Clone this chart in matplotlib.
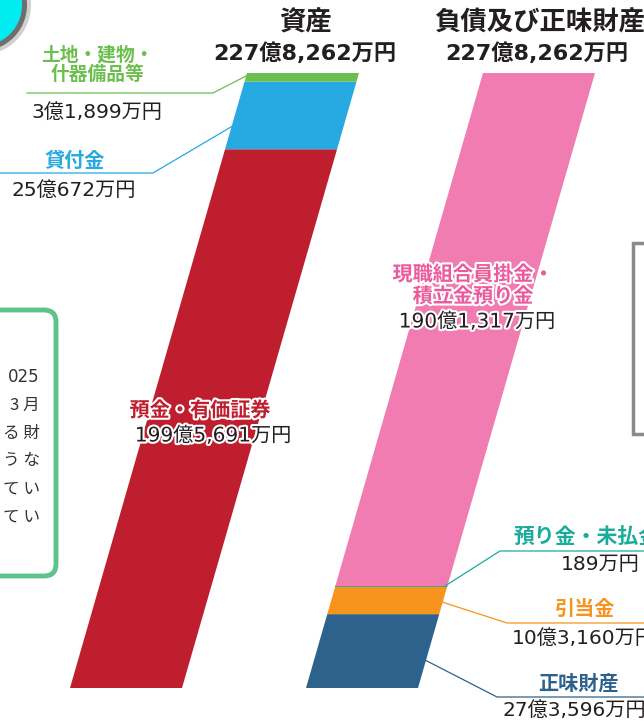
import matplotlib.pyplot as plt
import matplotlib.patheffects as pe
from matplotlib.patches import Polygon, Circle, FancyBboxPatch, Rectangle

plt.rcParams['font.family'] = ['Noto Sans CJK JP', 'DejaVu Sans']
NUM_FONT = ['DejaVu Sans', 'Noto Sans CJK JP']   # 数字は幅広の書体で

# 資産の部（下から順）
asset_names = ['預金・有価証券', '貸付金', '土地・建物・\n什器備品等']
asset_values = [199.5691, 25.0672, 3.1899]          # 億円
asset_labels = ['199億5,691万円', '25億672万円', '3億1,899万円']
asset_colors = ['#be1e2d', '#27a9e1', '#6cbf4f']

# 負債及び正味財産の部（下から順）
liab_names = ['正味財産', '引当金', '預り金・未払金', '現職組合員掛金・\n積立金預り金']
liab_values = [27.3596, 10.3160, 0.0189, 190.1317]  # 億円
liab_labels = ['27億3,596万円', '10億3,160万円', '189万円', '190億1,317万円']
liab_colors = ['#2c628b', '#f7941d', '#1aab9b', '#f07cb1']

total_label = '227億8,262万円'
total = sum(asset_values)

W, H = 644, 722
fig = plt.figure(figsize=(W / 100, H / 100), dpi=100)

# 帯グラフ用（縦軸は金額）
bar_bottom, bar_top = 688, 73
axb = fig.add_axes([0, (H - bar_bottom) / H, 1, (bar_bottom - bar_top) / H])
axb.set_xlim(0, W)
axb.set_ylim(0, total)
axb.axis('off')

# 文字・引き出し線用（ピクセル座標、帯より手前）
ax = fig.add_axes([0, 0, 1, 1])
ax.set_xlim(0, W)
ax.set_ylim(H, 0)
ax.axis('off')
ax.set_zorder(2)

slant = 177 / total   # 1億円あたりの横ずれ
bar_w = 112


def draw_column(values, colors, x0):
    y = 0
    for v, c in zip(values, colors):
        y1 = y + v
        pts = [(x0 + y * slant, y), (x0 + y * slant + bar_w, y),
               (x0 + y1 * slant + bar_w, y1), (x0 + y1 * slant, y1)]
        axb.add_patch(Polygon(pts, closed=True, facecolor=c, edgecolor=c,
                              linewidth=0.6 if v < 1 else 0))
        y = y1


draw_column(asset_values, asset_colors, 70)
draw_column(liab_values, liab_colors, 306)

dark = '#231f20'
halo = [pe.withStroke(linewidth=3, foreground='white')]
CAT = 14.5
NUM = 14.5

# 見出し
ax.text(305, 23, '資産', ha='center', va='center', fontsize=19,
        fontweight='bold', color=dark)
ax.text(305, 53, total_label, ha='center', va='center', fontsize=16,
        fontweight='bold', color=dark, family=NUM_FONT)
ax.text(540, 23, '負債及び正味財産', ha='center', va='center', fontsize=19,
        fontweight='bold', color=dark)
ax.text(537, 53, total_label, ha='center', va='center', fontsize=16,
        fontweight='bold', color=dark, family=NUM_FONT)

# 帯の上のラベル
ax.text(200, 410, asset_names[0], ha='center', va='center', fontsize=CAT,
        fontweight='bold', color=asset_colors[0], path_effects=halo)
ax.text(213, 436, asset_labels[0], ha='center', va='center', fontsize=NUM,
        color=dark, path_effects=halo, family=NUM_FONT)
ax.text(473, 285, liab_names[3], ha='center', va='center', fontsize=CAT,
        fontweight='bold', color='#ea5a9c', linespacing=1.05, path_effects=halo)
ax.text(477, 322, liab_labels[3], ha='center', va='center', fontsize=NUM,
        color=dark, path_effects=halo, family=NUM_FONT)

# 左側の引き出し線とラベル
ax.plot([27, 213, 248], [93, 93, 75], color=asset_colors[2], lw=0.9)
ax.text(97, 65, asset_names[2], ha='center', va='center', fontsize=13.5,
        fontweight='bold', color='#6cbf4f', linespacing=1.05)
ax.text(97, 112, asset_labels[2], ha='center', va='center', fontsize=NUM,
        color=dark, family=NUM_FONT)

ax.plot([0, 153, 236], [173, 173, 124], color=asset_colors[1], lw=0.9)
ax.text(75, 160, asset_names[1], ha='center', va='center', fontsize=CAT,
        fontweight='bold', color=asset_colors[1])
ax.text(74, 190, asset_labels[1], ha='center', va='center', fontsize=NUM,
        color=dark, family=NUM_FONT)

# 右側の引き出し線とラベル
ax.plot([445, 500, W], [586, 551, 551], color=liab_colors[2], lw=0.9)
ax.text(514, 537, liab_names[2], ha='left', va='center', fontsize=15,
        fontweight='bold', color=liab_colors[2])
ax.text(600, 565, liab_labels[2], ha='center', va='center', fontsize=NUM,
        color=dark, family=NUM_FONT)

ax.plot([442, 507, W], [602, 623, 623], color=liab_colors[1], lw=0.9)
ax.text(585, 608, liab_names[1], ha='center', va='center', fontsize=CAT,
        fontweight='bold', color=liab_colors[1])
ax.text(512, 638, liab_labels[1], ha='left', va='center', fontsize=NUM,
        color=dark, family=NUM_FONT)

ax.plot([425, 497, W], [660, 697, 697], color=liab_colors[0], lw=0.9)
ax.text(578, 683, liab_names[0], ha='center', va='center', fontsize=CAT,
        fontweight='bold', color=liab_colors[0])
ax.text(503, 710, liab_labels[0], ha='left', va='center', fontsize=NUM,
        color=dark, family=NUM_FONT)

# 左の説明枠
ax.add_patch(FancyBboxPatch((-60, 310), 116, 266,
                            boxstyle='round,pad=0,rounding_size=12',
                            facecolor='white', edgecolor='#5cc48a', lw=3.5))
note_lines = ['025', '3 月', 'る 財', 'う な', 'て い', 'て い']
for i, s in enumerate(note_lines):
    ax.text(40, 377 + i * 28, s, ha='right', va='center', fontsize=12,
            color='#333333', family=NUM_FONT if i == 0 else None)

# 右の枠
ax.add_patch(Rectangle((633, 243), 40, 191, facecolor='white',
                       edgecolor='#8a8a8a', lw=2.5))

# 左上の丸印
ax.add_patch(Circle((-19, 5), 50, facecolor='#d0d0d0', edgecolor='none'))
ax.add_patch(Circle((-19, 5), 46, facecolor='#6e6e6e', edgecolor='none'))
ax.add_patch(Circle((-19, 5), 41, facecolor='#00ecf0', edgecolor='none'))

fig.savefig('out.png', dpi=100)
